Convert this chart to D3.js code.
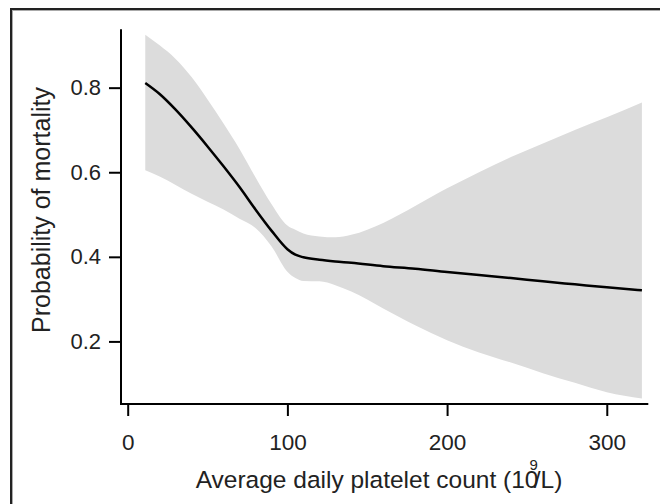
<!DOCTYPE html>
<html>
<head>
<meta charset="utf-8">
<script src="https://cdn.jsdelivr.net/npm/d3@7"></script>
<style>
  body { margin: 0; background: #fff; }
  svg { display: block; font-family: "Liberation Sans", Arial, sans-serif; }
  .axis text { fill: #222; }
</style>
</head>
<body>
<div id="chart"></div>
<script>
// platelet count (10^9/L) grid
const platelets = [11, 20, 30, 40, 50, 60, 70, 80, 90, 100, 105, 110, 120, 130, 140, 160, 180, 200, 220, 240, 260, 280, 300, 322];
// fitted probability of mortality
const fitted = [0.811, 0.785, 0.748, 0.706, 0.661, 0.614, 0.565, 0.512, 0.462, 0.418, 0.405, 0.399, 0.393, 0.389, 0.386, 0.378, 0.372, 0.364, 0.357, 0.350, 0.342, 0.335, 0.328, 0.321];
// confidence band
const upper = [0.925, 0.900, 0.868, 0.825, 0.772, 0.715, 0.655, 0.588, 0.525, 0.474, 0.464, 0.455, 0.448, 0.446, 0.452, 0.480, 0.520, 0.562, 0.600, 0.636, 0.668, 0.700, 0.730, 0.765];
const lower = [0.605, 0.590, 0.570, 0.549, 0.530, 0.512, 0.490, 0.468, 0.425, 0.365, 0.350, 0.343, 0.342, 0.333, 0.318, 0.278, 0.238, 0.203, 0.174, 0.150, 0.125, 0.102, 0.080, 0.065];
const xTicks = [0, 100, 200, 300];
const yTicks = [0.2, 0.4, 0.6, 0.8];

const width = 660, height = 504;

const svg = d3.select("#chart")
  .append("svg")
  .attr("width", width)
  .attr("height", height);

// outer frame (right/bottom edges fall outside the picture)
svg.append("rect")
  .attr("x", 11).attr("y", 9)
  .attr("width", 700).attr("height", 600)
  .attr("fill", "none")
  .attr("stroke", "#222")
  .attr("stroke-width", 2);
svg.append("rect")
  .attr("x", 12.5).attr("y", 10.5)
  .attr("width", 700).attr("height", 600)
  .attr("fill", "none")
  .attr("stroke", "#aaa")
  .attr("stroke-width", 1);

const x = d3.scaleLinear().domain([0, 326]).range([127.7, 648.3]);
const y = d3.scaleLinear().domain([0.052, 0.938]).range([404, 29.3]);

const rows = platelets.map((p, i) => ({ p: p, fit: fitted[i], lo: lower[i], hi: upper[i] }));

// band
svg.append("path")
  .datum(rows)
  .attr("fill", "#dcdcdc")
  .attr("d", d3.area()
    .x(d => x(d.p))
    .y0(d => y(d.lo))
    .y1(d => y(d.hi))
    .curve(d3.curveMonotoneX));

// fitted line
svg.append("path")
  .datum(rows)
  .attr("fill", "none")
  .attr("stroke", "#000")
  .attr("stroke-width", 2.5)
  .attr("d", d3.line()
    .x(d => x(d.p))
    .y(d => y(d.fit))
    .curve(d3.curveMonotoneX));

// axes
const axisX = 121;
const axisY = 404;

const xAxis = d3.axisBottom(x)
  .tickValues(xTicks)
  .tickSize(12)
  .tickSizeOuter(0)
  .tickPadding(18);

const gx = svg.append("g")
  .attr("class", "axis")
  .attr("transform", `translate(0, ${axisY})`)
  .call(xAxis);
gx.select(".domain").remove();
gx.selectAll(".tick line").attr("stroke", "#000").attr("stroke-width", 2);
gx.selectAll(".tick text").style("font-size", "22.5px");

const yAxis = d3.axisLeft(y)
  .tickValues(yTicks)
  .tickFormat(d3.format(".1f"))
  .tickSize(12)
  .tickSizeOuter(0)
  .tickPadding(8);

const gy = svg.append("g")
  .attr("class", "axis")
  .attr("transform", `translate(${axisX}, 0)`)
  .call(yAxis);
gy.select(".domain").remove();
gy.selectAll(".tick line").attr("stroke", "#000").attr("stroke-width", 2);
gy.selectAll(".tick text").style("font-size", "22px");

// axis lines meeting at the corner
svg.append("path")
  .attr("fill", "none")
  .attr("stroke", "#000")
  .attr("stroke-width", 2)
  .attr("d", `M${axisX},${y(0.938)}V${axisY}H${x(326)}`);

// axis titles
const xLabel = svg.append("text")
  .attr("x", 379)
  .attr("y", 488)
  .attr("text-anchor", "middle")
  .attr("fill", "#222")
  .style("font-size", "24.5px");
xLabel.append("tspan").text("Average daily platelet count (10");
xLabel.append("tspan").attr("dx", -9).attr("dy", -18).style("font-size", "15px").text("9");
xLabel.append("tspan").attr("dx", -4).attr("dy", 18).text("/L)");

svg.append("text")
  .attr("transform", "translate(50, 210) rotate(-90)")
  .attr("text-anchor", "middle")
  .attr("fill", "#222")
  .style("font-size", "25px")
  .text("Probability of mortality");
</script>
</body>
</html>
